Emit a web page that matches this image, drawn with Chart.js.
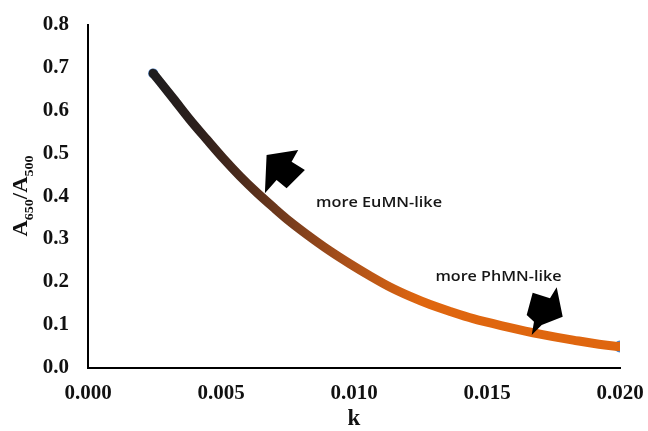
<!DOCTYPE html>
<html>
<head>
<meta charset="utf-8">
<script src="https://cdn.jsdelivr.net/npm/chart.js@4.4.1/dist/chart.umd.min.js"></script>
<style>
  html, body { margin: 0; padding: 0; background: #fff; }
  #wrap { width: 648px; height: 431px; }
</style>
</head>
<body>
<div id="wrap"><canvas id="chart-ratio" width="648" height="431"></canvas></div>
<script>
// points: k and the A650/A500 ratio
const kValues = [0.00245, 0.00321, 0.00383, 0.00446, 0.00509, 0.00571, 0.00634, 0.00697, 0.00759, 0.00822,
                 0.00910, 0.00985, 0.01060, 0.01135, 0.01211, 0.01286, 0.01361, 0.01448, 0.01574, 0.01699,
                 0.01824, 0.01975, 0.02000];
const ratioValues = [0.687, 0.628, 0.579, 0.533, 0.488, 0.447, 0.409, 0.374, 0.341, 0.311,
                     0.272, 0.242, 0.214, 0.188, 0.166, 0.147, 0.131, 0.114, 0.095, 0.078,
                     0.064, 0.050, 0.049];
const xTickValues = [0, 0.005, 0.010, 0.015, 0.020];
const yTickValues = [0, 0.1, 0.2, 0.3, 0.4, 0.5, 0.6, 0.7, 0.8];
const noteLabels = ['more EuMN-like', 'more PhMN-like'];

const points = kValues.map((k, i) => ({ x: k, y: ratioValues[i] }));
const endPoints = [points[0], points[points.length - 1]];

const serifBold = { family: '"Liberation Serif", "Times New Roman", serif', weight: 'bold' };

// dark -> orange along the curve
function curveGradient(context) {
    const chart = context.chart;
    const area = chart.chartArea;
    if (!area) return '#e0670f';
    const xs = chart.scales.x;
    const x0 = xs.getPixelForValue(kValues[0]);
    const x1 = xs.getPixelForValue(0.0125);
    const g = chart.ctx.createLinearGradient(x0, 0, x1, 0);
    g.addColorStop(0, '#1f1d1e');
    g.addColorStop(0.18, '#2e201c');
    g.addColorStop(0.33, '#4c2b1c');
    g.addColorStop(0.52, '#7a3d1c');
    g.addColorStop(0.72, '#aa501a');
    g.addColorStop(1, '#df660f');
    return g;
}

// black block arrows + the two notes, anchored in data units
const notesPlugin = {
    id: 'notes',
    afterDatasetsDraw(chart) {
        const ctx = chart.ctx;
        const xs = chart.scales.x, ys = chart.scales.y;
        const arrows = [
            { k: 0.00665, r: 0.407, pts: [[1.7, -38.3], [33.3, -43.3], [26.7, -31.6], [40, -23.3], [21.7, -5], [11.7, -13.3], [0, 0]] },
            { k: 0.01668, r: 0.0759, pts: [[1, -42.3], [18.3, -36.7], [25, -47.7], [31, -18.3], [10, -10], [0, 0], [2.3, -13.3], [-5, -20]] }
        ];
        ctx.save();
        ctx.fillStyle = '#000';
        arrows.forEach(a => {
            const ax = xs.getPixelForValue(a.k), ay = ys.getPixelForValue(a.r);
            ctx.beginPath();
            a.pts.forEach((p, i) => i ? ctx.lineTo(ax + p[0], ay + p[1]) : ctx.moveTo(ax + p[0], ay + p[1]));
            ctx.closePath();
            ctx.fill();
        });

        const spots = [{ k: 0.01094, r: 0.384 }, { k: 0.01543, r: 0.212 }];
        ctx.font = '600 14px "Open Sans", sans-serif';
        ctx.fillStyle = '#161616';
        ctx.textAlign = 'center';
        ctx.textBaseline = 'middle';
        noteLabels.forEach((t, i) => {
            const px = xs.getPixelForValue(spots[i].k), py = ys.getPixelForValue(spots[i].r);
            const sx = 126 / ctx.measureText(t).width;
            ctx.save();
            ctx.translate(px, py);
            ctx.scale(sx, 1);
            ctx.fillText(t, 0, 0);
            ctx.restore();
        });

        // y title A650/A500 with subscripts
        const parts = [['A', 21, 0], ['650', 13, 6], ['/A', 21, 0], ['500', 13, 6]];
        let total = 0;
        parts.forEach(p => {
            ctx.font = 'bold ' + p[1] + 'px "Liberation Serif", serif';
            p.push(ctx.measureText(p[0]).width * 1.08);
            total += p[3];
        });
        ctx.translate(27, 196);
        ctx.rotate(-Math.PI / 2);
        ctx.scale(1.08, 1);
        ctx.fillStyle = '#111';
        ctx.textAlign = 'left';
        ctx.textBaseline = 'alphabetic';
        let cx = -total / 2 / 1.08;
        parts.forEach(p => {
            ctx.font = 'bold ' + p[1] + 'px "Liberation Serif", serif';
            ctx.fillText(p[0], cx, p[2]);
            cx += p[3] / 1.08;
        });
        ctx.restore();
    }
};

new Chart(document.getElementById('chart-ratio'), {
    type: 'line',
    data: {
        datasets: [
            {
                label: 'ratio',
                data: points,
                borderColor: curveGradient,
                borderWidth: 9,
                borderCapStyle: 'round',
                borderJoinStyle: 'round',
                cubicInterpolationMode: 'monotone',
                pointRadius: 0,
                fill: false,
                order: 1
            },
            {
                label: 'ends',
                data: endPoints,
                showLine: false,
                pointRadius: [5, 6],
                pointBackgroundColor: '#4f82c4',
                pointBorderWidth: 0,
                order: 2
            }
        ]
    },
    options: {
        responsive: false,
        animation: false,
        layout: { padding: { left: 0, right: 28, top: 25, bottom: 0 } },
        plugins: { legend: { display: false }, tooltip: { enabled: false } },
        scales: {
            x: {
                type: 'linear',
                min: 0, max: 0.02,
                afterFit: s => { s.height = 63.5; s.paddingLeft = 0; s.paddingRight = 0; },
                afterBuildTicks: s => { s.ticks = xTickValues.map(v => ({ value: v })); },
                grid: { display: false, drawTicks: false },
                border: { display: true, color: '#000', width: 2 },
                ticks: { padding: 13, color: '#111', font: { ...serifBold, size: 21 }, callback: v => v.toFixed(3) },
                title: { display: true, text: 'k', color: '#111', padding: { top: 0, bottom: 0 }, font: { ...serifBold, size: 23, lineHeight: 1 } }
            },
            y: {
                type: 'linear',
                min: 0, max: 0.8,
                afterFit: s => { s.width = 88; s.paddingTop = 0; s.paddingBottom = 0; },
                afterBuildTicks: s => { s.ticks = yTickValues.map(v => ({ value: v })); },
                grid: { display: false, drawTicks: false },
                border: { display: true, color: '#000', width: 2 },
                ticks: { padding: 19, color: '#111', font: { ...serifBold, size: 21 }, callback: v => v.toFixed(1) }
            }
        }
    },
    plugins: [notesPlugin]
});
</script>
</body>
</html>
